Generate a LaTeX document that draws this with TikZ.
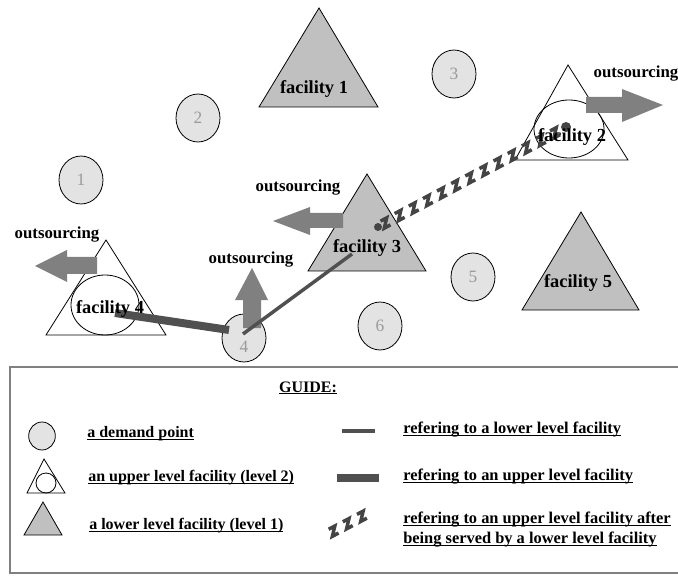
\documentclass[tikz,border=0pt]{standalone}
\usepackage{fontspec}
\setmainfont{Liberation Serif}
\usetikzlibrary{shapes.geometric,decorations.markings}
\definecolor{dem}{HTML}{E3E3E3}
\definecolor{low}{HTML}{C0C0C0}
\definecolor{arr}{HTML}{808080}
\definecolor{ln}{HTML}{505050}
\definecolor{zz}{HTML}{444444}
\definecolor{num}{HTML}{9A9A9A}
\definecolor{framec}{HTML}{808080}
\newcommand\myul[1]{\setbox0\hbox{#1}\rlap{\rule[-1.6pt]{\wd0}{0.8pt}}\box0}
\begin{document}
\begin{tikzpicture}[x=0.75pt,y=-0.75pt,
 demand/.style={ellipse,draw=black,line width=0.6pt,fill=dem,minimum width=33pt,minimum height=36pt,inner sep=0pt,text=num,font=\fontsize{13}{13}\selectfont},
 facl/.style={font=\bfseries\fontsize{13.8}{14}\selectfont,inner sep=0pt},
 outs/.style={font=\bfseries\fontsize{12.6}{13}\selectfont,inner sep=0pt},
 leg/.style={font=\bfseries\fontsize{12}{15}\selectfont,anchor=west,inner sep=0pt,align=left},
 legr/.style={leg,font=\bfseries\fontsize{12.3}{15}\selectfont},
 lowtri/.style={draw=black,fill=low,line width=0.6pt},
 uptri/.style={draw=black,fill=white,line width=0.6pt},
 upell/.style={draw=black,line width=0.6pt},
 outarrow/.style={fill=arr},
 thinref/.style={draw=ln,line width=2.6pt},
 thickref/.style={draw=ln,line width=6pt},
 zigref/.style={decoration={markings,mark=between positions 0.04 and 0.98 step 12pt with {\draw[zz,line width=2.6pt,line join=miter] (-3.5,-4)--(3.5,-4)--(-3.5,4)--(3.5,4);}},decorate}
]
\useasboundingbox (0,0) rectangle (678,577);
\clip (0,0) rectangle (678,577);
% upper level facilities
\path[uptri] (568,65) -- (628,160) -- (515,160) -- cycle;
\draw[upell] (569,129) ellipse [x radius=35, y radius=29];
\path[uptri] (106,240) -- (166,335) -- (46,335) -- cycle;
\draw[upell] (105,305) ellipse [x radius=34, y radius=30];
% lower level facilities
\path[lowtri] (319,8) -- (378,107) -- (259,107) -- cycle;
\path[lowtri] (367,174) -- (426,271) -- (308,271) -- cycle;
\path[lowtri] (581,212) -- (639,310) -- (522,310) -- cycle;
% demand points
\node[demand] (d1) at (81,180) {1};
\node[demand] (d2) at (198,118) {2};
\node[demand] (d3) at (454,74) {3};
\node[demand] (d4) at (244,338) {};
\node[demand] (d5) at (473,277) {5};
\node[demand] (d6) at (380,326) {6};
% outsourcing arrows
\fill[outarrow] (97,257) -- (67,257) -- (67,250) -- (35,266) -- (67,282) -- (67,274) -- (97,274) -- cycle;
\fill[outarrow] (243,328) -- (243,300) -- (235,300) -- (252,268) -- (268,300) -- (261,300) -- (261,328) -- cycle;
\fill[outarrow] (343,213) -- (310,213) -- (310,207) -- (273,221) -- (310,235) -- (310,228) -- (343,228) -- cycle;
\fill[outarrow] (586,97) -- (622,97) -- (622,89) -- (663,105) -- (622,122) -- (622,113) -- (586,113) -- cycle;
\node[demand,draw=none,fill=none] (d4n) at (244,347) {4};
% connector end points
\coordinate (p4a) at (243,334);
\coordinate (p4b) at (229,330);
\coordinate (pf3) at (352,254);
\coordinate (pf4) at (115,313);
\coordinate (pz3) at (378,227);
\coordinate (pz2) at (566,127);
% connectors
\draw[thinref] (p4a) -- (pf3);
\draw[thickref] (p4b) -- (pf4);
\path[zigref] (pz3) -- (pz2);
\fill[zz] (pz3) circle [radius=4];
\fill[zz] (pz2) circle [radius=5];
% labels
\node[facl] (f1) at (314,89) {facility 1};
\node[facl] (f2) at (572,137) {facility 2};
\node[facl] (f3) at (367,248) {facility 3};
\node[facl] (f4) at (110,309) {facility 4};
\node[facl] (f5) at (578,283) {facility 5};
\node[outs] (o4) at (57,235) {outsourcing};
\node[outs] (ou) at (251,260) {outsourcing};
\node[outs] (o3) at (298,188) {outsourcing};
\node[outs] (o2) at (636,74) {outsourcing};
% legend
\draw[framec,line width=2.2pt] (10,367) rectangle (700,573);
\node[leg,anchor=center] (guide) at (308,388) {\myul{GUIDE:}};
\node[demand,minimum width=20pt,minimum height=21pt] (ld) at (42,436) {};
\node[leg] (tld) at (87,434) {\myul{a demand point}};
\path[uptri] (44,459) -- (65,493) -- (27,493) -- cycle;
\draw[upell] (46,483) circle [radius=10];
\node[leg] (tlu) at (88,478) {\myul{an upper level facility (level 2)}};
\path[lowtri] (43,502) -- (62,535) -- (24,535) -- cycle;
\node[leg] (tll) at (89,526) {\myul{a lower level facility (level 1)}};
\coordinate (l1a) at (342,431); \coordinate (l1b) at (375,431);
\draw[thinref] (l1a) -- (l1b);
\node[legr] (tl1) at (403,430) {\myul{refering to a lower level facility}};
\coordinate (l2a) at (337,478); \coordinate (l2b) at (379,478);
\draw[ln,line width=5.5pt] (l2a) -- (l2b);
\node[legr] (tl2) at (403,477) {\myul{refering to an upper level facility}};
\coordinate (l3a) at (332,532); \coordinate (l3b) at (372,511);
\path[zigref] (l3a) -- (l3b);
\node[legr] (tl3) at (403,530) {\myul{refering to an upper level facility after}\\\myul{being served by a lower level facility}};
\end{tikzpicture}
\end{document}
